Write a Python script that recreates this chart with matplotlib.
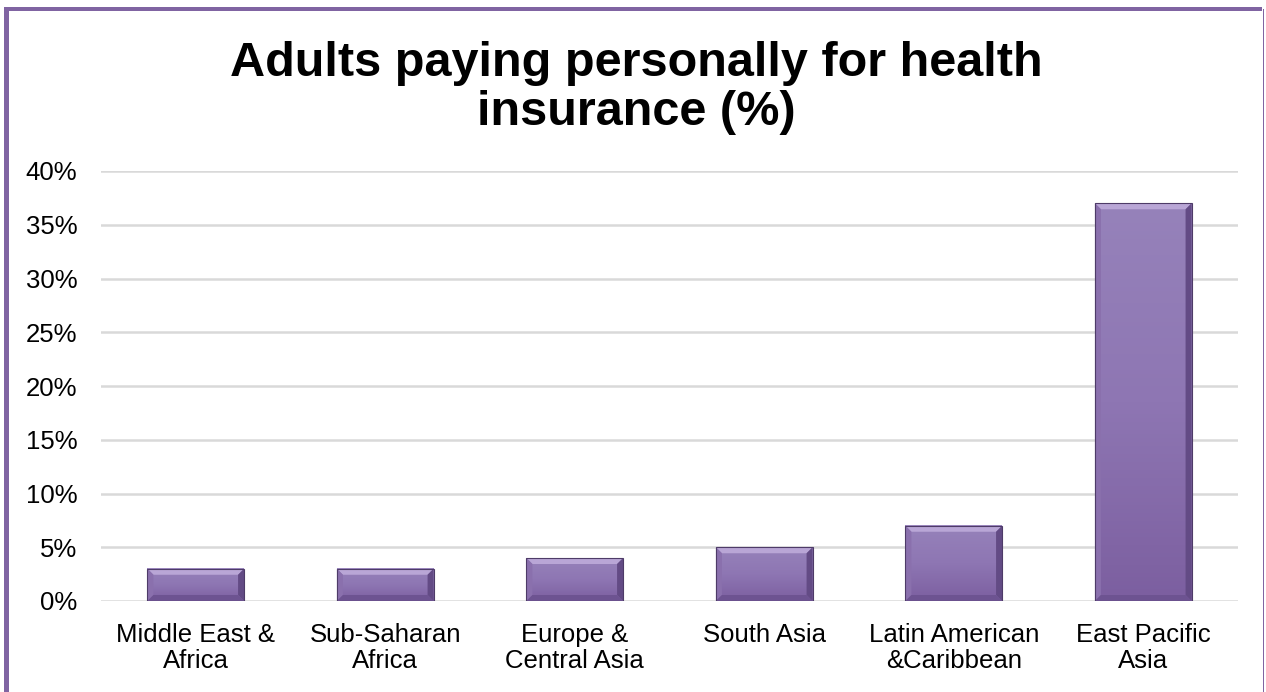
import numpy as np
import matplotlib.pyplot as plt
from matplotlib.patches import Rectangle, Polygon
from matplotlib.colors import LinearSegmentedColormap

plt.rcParams['font.family'] = ['Liberation Sans', 'DejaVu Sans']

regions = ['Middle East &\nAfrica', 'Sub-Saharan\nAfrica', 'Europe &\nCentral Asia',
           'South Asia', 'Latin American\n&Caribbean', 'East Pacific\nAsia']
share = [3, 3, 4, 5, 7, 37]
yticks = [0, 5, 10, 15, 20, 25, 30, 35, 40]

W, H = 1266, 692
fig = plt.figure(figsize=(W / 100, H / 100), dpi=100)
fig.patch.set_facecolor('white')

# outer frame
purple = '#8064a2'
fig.add_artist(Rectangle((4 / W, 0), 5 / W, (H - 7) / H, transform=fig.transFigure,
                         facecolor=purple, edgecolor='none'))
fig.add_artist(Rectangle((4 / W, (H - 11) / H), (1262 - 4) / W, 4 / H, transform=fig.transFigure,
                         facecolor=purple, edgecolor='none'))
fig.add_artist(Rectangle((1262.5 / W, 0), 1.5 / W, (H - 9) / H, transform=fig.transFigure,
                         facecolor=purple, edgecolor='none'))

ax = fig.add_axes([101 / W, (H - 601) / H, (1238 - 101) / W, (601 - 171) / H])
x = np.arange(len(share))
ax.set_xlim(-0.5, len(share) - 0.5)
ax.set_ylim(0, 40)
ax.set_yticks(yticks)
ax.set_yticklabels([f'{t}%' for t in yticks], fontsize=18.5)
ax.set_xticks(x)
ax.set_xticklabels(regions, fontsize=18.5, linespacing=1.1)
ax.tick_params(length=0)
ax.tick_params(axis='y', pad=17)
ax.tick_params(axis='x', pad=16)
for s in ax.spines.values():
    s.set_visible(False)
ax.yaxis.grid(True, color='#d9d9d9', linewidth=1.8)
ax.set_axisbelow(True)

# bevelled bars
grad = LinearSegmentedColormap.from_list('bar', ['#7c5fa0', '#8e76b3', '#9682ba'])
bw = 0.51
px_x = 1 / ((1238 - 101) / len(share))
px_y = 40 / (601 - 171)
for xi, v in zip(x, share):
    l, r = xi - bw / 2, xi + bw / 2
    ax.imshow(np.linspace(0, 1, 100).reshape(-1, 1), cmap=grad, aspect='auto',
              extent=(l, r, 0, v), origin='lower', zorder=2)
    b = 6
    dx, dy = b * px_x, b * px_y
    # top bevel
    ax.add_patch(Polygon([(l, v), (r, v), (r - dx, v - dy), (l + dx, v - dy)],
                         closed=True, facecolor='#b9a6d6', edgecolor='none', zorder=3))
    # left bevel
    ax.add_patch(Polygon([(l, v), (l + dx, v - dy), (l + dx, dy), (l, 0)],
                         closed=True, facecolor='#8a70ad', edgecolor='none', zorder=3))
    # right bevel
    ax.add_patch(Polygon([(r, v), (r - dx, v - dy), (r - dx, dy), (r, 0)],
                         closed=True, facecolor='#634b85', edgecolor='none', zorder=3))
    # bottom bevel
    ax.add_patch(Polygon([(l, 0), (l + dx, dy), (r - dx, dy), (r, 0)],
                         closed=True, facecolor='#6d5391', edgecolor='none', zorder=3))
    ax.add_patch(Rectangle((l, 0), bw, v, facecolor='none', edgecolor='#4e3b68',
                           linewidth=0.8, zorder=4))

fig.text(636 / W, 1 - 88 / H, 'Adults paying personally for health\ninsurance (%)',
         ha='center', va='center', fontsize=35, fontweight='bold', linespacing=1.1)

fig.savefig('out.png', dpi=100)
